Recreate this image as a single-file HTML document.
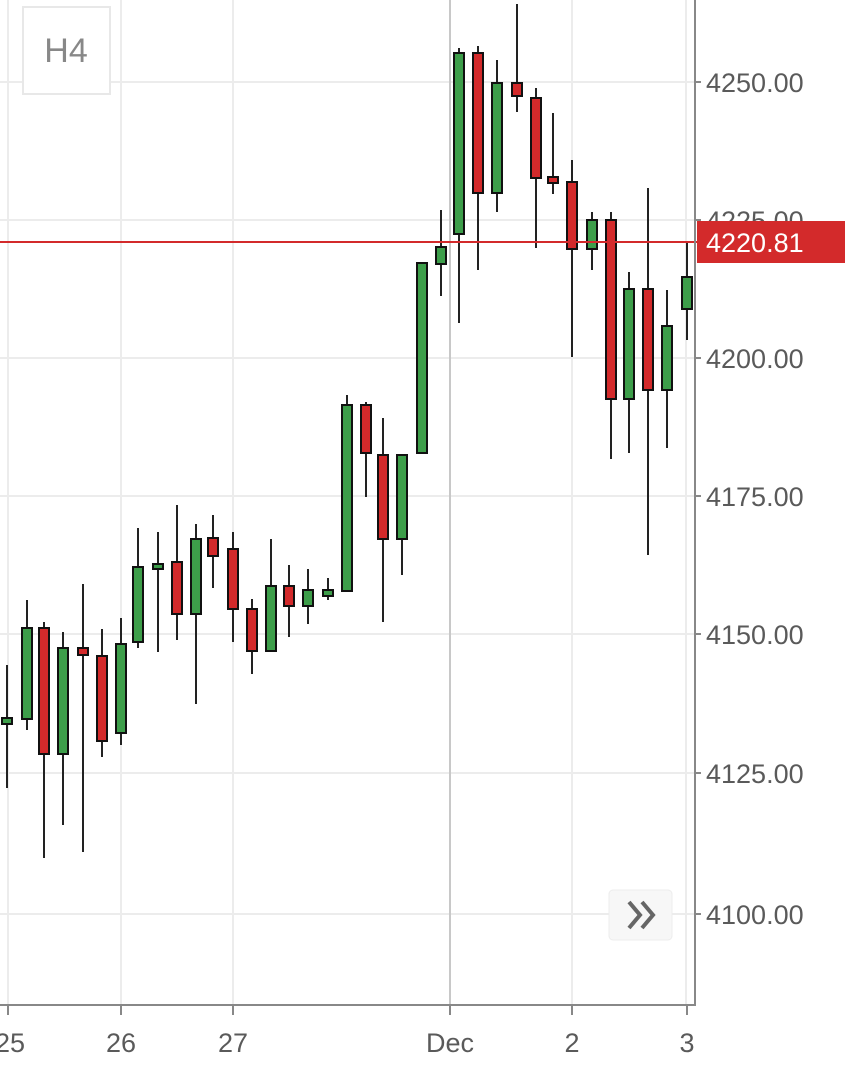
<!DOCTYPE html>
<html><head><meta charset="utf-8"><style>
html,body{margin:0;padding:0;background:#fff;width:845px;height:1080px;overflow:hidden}
svg{display:block}
text{font-family:"Liberation Sans",sans-serif;fill:#5a5a5a}
</style></head><body>
<svg width="845" height="1080" viewBox="0 0 845 1080" xmlns="http://www.w3.org/2000/svg">
<g stroke="#ececec" stroke-width="2">
<line x1="0" y1="82" x2="695" y2="82"/><line x1="0" y1="220" x2="695" y2="220"/>
<line x1="0" y1="358" x2="695" y2="358"/><line x1="0" y1="496" x2="695" y2="496"/>
<line x1="0" y1="634" x2="695" y2="634"/><line x1="0" y1="773" x2="695" y2="773"/>
<line x1="0" y1="914" x2="695" y2="914"/>
<line x1="8" y1="0" x2="8" y2="1004"/><line x1="121" y1="0" x2="121" y2="1004"/>
<line x1="233" y1="0" x2="233" y2="1004"/><line x1="572" y1="0" x2="572" y2="1004"/>
<line x1="686" y1="0" x2="686" y2="1004"/>
</g>
<line x1="450" y1="0" x2="450" y2="1004" stroke="#c8c8c8" stroke-width="2"/>
<rect x="23" y="7" width="87" height="87" fill="#fff" stroke="#e8e8e8" stroke-width="2"/>
<text x="66" y="62" font-size="34" text-anchor="middle" style="fill:#888">H4</text>
<g stroke="#222" stroke-width="2">
<line x1="7" y1="665" x2="7" y2="788"/><line x1="27" y1="600" x2="27" y2="730"/><line x1="44" y1="622" x2="44" y2="858"/><line x1="63" y1="632" x2="63" y2="825"/><line x1="83" y1="584" x2="83" y2="852"/><line x1="102" y1="629" x2="102" y2="757"/><line x1="121" y1="618" x2="121" y2="745"/><line x1="138" y1="528" x2="138" y2="648"/><line x1="158" y1="532" x2="158" y2="652"/><line x1="177" y1="505" x2="177" y2="640"/><line x1="196" y1="524" x2="196" y2="704"/><line x1="213" y1="515" x2="213" y2="588"/><line x1="233" y1="532" x2="233" y2="642"/><line x1="252" y1="599" x2="252" y2="674"/><line x1="271" y1="539" x2="271" y2="651"/><line x1="289" y1="565" x2="289" y2="637"/><line x1="308" y1="569" x2="308" y2="624"/><line x1="328" y1="578" x2="328" y2="600"/><line x1="347" y1="395" x2="347" y2="591"/><line x1="366" y1="402" x2="366" y2="497"/><line x1="383" y1="418" x2="383" y2="622"/><line x1="402" y1="455" x2="402" y2="575"/><line x1="422" y1="263" x2="422" y2="453"/><line x1="441" y1="210" x2="441" y2="296"/><line x1="459" y1="48" x2="459" y2="323"/><line x1="478" y1="46" x2="478" y2="270"/><line x1="497" y1="60" x2="497" y2="212"/><line x1="517" y1="4" x2="517" y2="112"/><line x1="536" y1="88" x2="536" y2="248"/><line x1="553" y1="113" x2="553" y2="194"/><line x1="572" y1="160" x2="572" y2="357"/><line x1="592" y1="212" x2="592" y2="270"/><line x1="611" y1="212" x2="611" y2="459"/><line x1="629" y1="272" x2="629" y2="453"/><line x1="648" y1="188" x2="648" y2="555"/><line x1="667" y1="290" x2="667" y2="448"/><line x1="687" y1="242" x2="687" y2="340"/>
</g>
<g stroke="#111" stroke-width="2">
<rect x="2" y="718" width="10" height="6" fill="#3d9e4a"/>
<rect x="22" y="628" width="10" height="91" fill="#3d9e4a"/>
<rect x="39" y="628" width="10" height="126" fill="#d32a2b"/>
<rect x="58" y="648" width="10" height="106" fill="#3d9e4a"/>
<rect x="78" y="648" width="10" height="7" fill="#d32a2b"/>
<rect x="97" y="656" width="10" height="85" fill="#d32a2b"/>
<rect x="116" y="644" width="10" height="89" fill="#3d9e4a"/>
<rect x="133" y="567" width="10" height="75" fill="#3d9e4a"/>
<rect x="153" y="564" width="10" height="5" fill="#3d9e4a"/>
<rect x="172" y="562" width="10" height="52" fill="#d32a2b"/>
<rect x="191" y="539" width="10" height="75" fill="#3d9e4a"/>
<rect x="208" y="538" width="10" height="18" fill="#d32a2b"/>
<rect x="228" y="549" width="10" height="60" fill="#d32a2b"/>
<rect x="247" y="609" width="10" height="42" fill="#d32a2b"/>
<rect x="266" y="586" width="10" height="65" fill="#3d9e4a"/>
<rect x="284" y="586" width="10" height="20" fill="#d32a2b"/>
<rect x="303" y="590" width="10" height="16" fill="#3d9e4a"/>
<rect x="323" y="590" width="10" height="6" fill="#3d9e4a"/>
<rect x="342" y="405" width="10" height="186" fill="#3d9e4a"/>
<rect x="361" y="405" width="10" height="48" fill="#d32a2b"/>
<rect x="378" y="455" width="10" height="84" fill="#d32a2b"/>
<rect x="397" y="455" width="10" height="84" fill="#3d9e4a"/>
<rect x="417" y="263" width="10" height="190" fill="#3d9e4a"/>
<rect x="436" y="247" width="10" height="17" fill="#3d9e4a"/>
<rect x="454" y="53" width="10" height="181" fill="#3d9e4a"/>
<rect x="473" y="53" width="10" height="140" fill="#d32a2b"/>
<rect x="492" y="83" width="10" height="110" fill="#3d9e4a"/>
<rect x="512" y="83" width="10" height="13" fill="#d32a2b"/>
<rect x="531" y="98" width="10" height="80" fill="#d32a2b"/>
<rect x="548" y="177" width="10" height="6" fill="#d32a2b"/>
<rect x="567" y="182" width="10" height="67" fill="#d32a2b"/>
<rect x="587" y="220" width="10" height="29" fill="#3d9e4a"/>
<rect x="606" y="220" width="10" height="179" fill="#d32a2b"/>
<rect x="624" y="289" width="10" height="110" fill="#3d9e4a"/>
<rect x="643" y="289" width="10" height="101" fill="#d32a2b"/>
<rect x="662" y="326" width="10" height="64" fill="#3d9e4a"/>
<rect x="682" y="277" width="10" height="32" fill="#3d9e4a"/>
</g>
<line x1="0" y1="242" x2="697" y2="242" stroke="#d32a2b" stroke-width="2"/>
<g stroke="#888" stroke-width="2">
<line x1="695" y1="0" x2="695" y2="1005"/><line x1="0" y1="1005" x2="696" y2="1005"/>
<line x1="695" y1="82" x2="701" y2="82"/><line x1="695" y1="220" x2="701" y2="220"/><line x1="695" y1="358" x2="701" y2="358"/><line x1="695" y1="496" x2="701" y2="496"/><line x1="695" y1="634" x2="701" y2="634"/><line x1="695" y1="773" x2="701" y2="773"/><line x1="695" y1="914" x2="701" y2="914"/>
<line x1="8" y1="1005" x2="8" y2="1015"/><line x1="121" y1="1005" x2="121" y2="1015"/><line x1="233" y1="1005" x2="233" y2="1015"/><line x1="450" y1="1005" x2="450" y2="1015"/><line x1="572" y1="1005" x2="572" y2="1015"/><line x1="687" y1="1005" x2="687" y2="1015"/>
</g>
<g font-size="27">
<text x="706" y="92">4250.00</text><text x="706" y="230">4225.00</text><text x="706" y="368">4200.00</text><text x="706" y="506">4175.00</text><text x="706" y="644">4150.00</text><text x="706" y="783">4125.00</text><text x="706" y="924">4100.00</text>
</g>
<rect x="697" y="221" width="148" height="42" fill="#d32a2b"/>
<text x="706" y="252" font-size="27" style="fill:#fff">4220.81</text>
<g font-size="27" text-anchor="middle">
<text x="10" y="1052">25</text><text x="121" y="1052">26</text><text x="233" y="1052">27</text><text x="450" y="1052">Dec</text><text x="572" y="1052">2</text><text x="687" y="1052">3</text>
</g>
<rect x="609" y="890" width="63" height="50" rx="4" fill="#f7f7f7" stroke="#ececec" stroke-width="1"/>
<path d="M629 902 L640 915 L629 928 M642 902 L653 915 L642 928" fill="none" stroke="#666" stroke-width="4"/>
</svg>
</body></html>
